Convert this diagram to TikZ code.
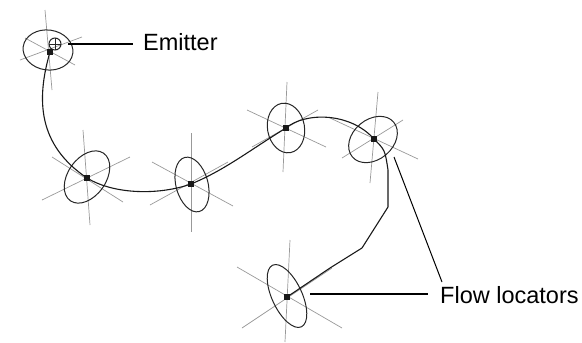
\documentclass[tikz,border=0pt]{standalone}
\usepackage{fontspec}
\setmainfont{Liberation Sans}
\begin{document}
\begin{tikzpicture}[x=1pt,y=-1pt,
  spoke/.style={draw=black!40, line width=0.7pt},
  ring/.style={draw=black!85, line width=1pt},
  flowline/.style={draw=black!90, line width=1.1pt},
  sq/.style={rectangle, fill=black!90, draw=none, minimum size=6.5pt, inner sep=0pt},
  leader/.style={draw=black, line width=1.6pt},
  thinleader/.style={draw=black, line width=1pt},
  lbl/.style={font=\fontsize{23.5}{28}\selectfont, inner sep=0pt}]
\useasboundingbox (0,0) rectangle (582,343);

% ---------- spokes ----------
% emitter
\draw[spoke] (45,10) -- (52,90);
\draw[spoke] (25,38) -- (75,65);
\draw[spoke] (20,60) -- (82,37);
% L2
\draw[spoke] (83,130) -- (90,225);
\draw[spoke] (52,157) -- (123,202);
\draw[spoke] (42,200) -- (130,157);
% L3
\draw[spoke] (191,133) -- (191,232);
\draw[spoke] (152,162) -- (233,206);
\draw[spoke] (150,205) -- (228,162);
% L4
\draw[spoke] (287,82) -- (283,172);
\draw[spoke] (247,110) -- (326,147);
\draw[spoke] (252,147) -- (318,110);
% L5
\draw[spoke] (378,92) -- (370,183);
\draw[spoke] (330,118) -- (418,159);
\draw[spoke] (342,158) -- (403,120);
% L6
\draw[spoke] (290,240) -- (285,342);
\draw[spoke] (237,267) -- (342,328);
\draw[spoke] (242,328) -- (332,268);

% ---------- ellipses ----------
\draw[ring, rotate around={-8:(48,50)}] (48,50) ellipse [x radius=25pt, y radius=20pt];
\draw[ring, rotate around={55:(87,177)}] (87,177) ellipse [x radius=29pt, y radius=19pt];
\draw[ring, rotate around={105:(192,184.5)}] (192,184.5) ellipse [x radius=28pt, y radius=16pt];
\draw[ring, rotate around={100:(286,128)}] (286,128) ellipse [x radius=25pt, y radius=18.5pt];
\draw[ring, rotate around={40:(373,139.5)}] (373,139.5) ellipse [x radius=27pt, y radius=20pt];
\draw[ring, rotate around={115:(287,296)}] (287,296) ellipse [x radius=34pt, y radius=15pt];

% emitter crosshair
\draw[ring] (55,44) circle [radius=6pt];
\draw[ring, line width=0.7pt] (49,44) -- (61,44) (55,38) -- (55,50);

% ---------- locator squares ----------
\node[sq] (L1) at (50,52) {};
\node[sq] (L2) at (87,178) {};
\node[sq] (L3) at (191,184) {};
\node[sq] (L4) at (286,128) {};
\node[sq] (L5) at (374,139) {};
\node[sq] (L6) at (287,297) {};

% ---------- flow path ----------
\coordinate (b1) at (388,170);
\coordinate (b2) at (388,207);
\coordinate (b3) at (362,248);
\coordinate (b4) at (330,268);
\draw[flowline] (L1.center) .. controls (36,100) and (38,145) .. (L2.center)
  .. controls (115,195) and (160,195) .. (L3.center)
  .. controls (225,170) and (250,150) .. (L4.center)
  .. controls (305,112) and (350,112) .. (L5.center)
  .. controls (385,150) .. (b1) -- (b2) -- (b3) -- (b4) -- (L6.center);

% ---------- labels ----------
\node[lbl, anchor=base west] (emt) at (143,50) {Emitter};
\coordinate (emA) at (68,44);
\coordinate (emB) at (133,44);
\draw[leader] (emA) -- (emB);

\node[lbl, anchor=base west] (flt) at (440,303) {Flow locators};
\coordinate (flA) at (310,294);
\coordinate (flB) at (428,294);
\draw[leader] (flA) -- (flB);
\coordinate (flC) at (394,157);
\coordinate (flD) at (442,282);
\draw[thinleader] (flC) -- (flD);
\end{tikzpicture}
\end{document}
